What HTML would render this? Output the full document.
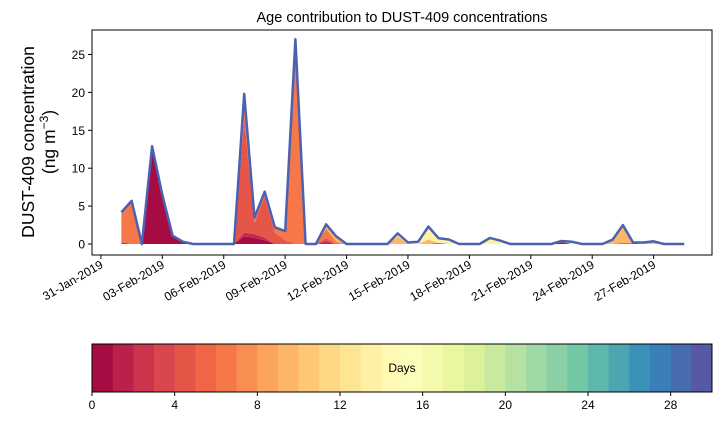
<!DOCTYPE html>
<html><head><meta charset="utf-8"><style>
body{margin:0;background:#fff;}
svg{font-family:"Liberation Sans","DejaVu Sans",sans-serif;}
</style></head><body>
<svg id="c" width="721" height="425" viewBox="0 0 721 425">
<text x="402" y="22" font-size="14.5" text-anchor="middle">Age contribution to DUST-409 concentrations</text>
<g transform="translate(34,142) rotate(-90)">
<text x="0" y="0" font-size="17.5" text-anchor="middle">DUST-409 concentration</text>
<text x="0" y="21" font-size="17.5" text-anchor="middle">(ng m<tspan dy="-7" font-size="12">−3</tspan><tspan dy="7">)</tspan></text>
</g>
<g id="areas"></g>
<g id="axes"></g>
<g id="cbar"></g>
</svg>
<script>
const dates=["31-Jan-2019","03-Feb-2019","06-Feb-2019","09-Feb-2019","12-Feb-2019","15-Feb-2019","18-Feb-2019","21-Feb-2019","24-Feb-2019","27-Feb-2019"];
const dateOffsets=[-1,2,5,8,11,14,17,20,23,26];
const yTicks=[0,5,10,15,20,25];
const cbTicks=[0,4,8,12,16,20,24,28];
const N=56;
// series by age bin (sparse: index -> value), 12-hourly from 01-Feb-2019
const ageBins=[0.5,2,4.5,6.5,9.5,13.5];
const s0={3:12.5,4:6.5,5:1.1,6:0.3,12:1.0,13:0.8,14:0.5,20:0.1,31:0.1,43:0.2};
const s1={0:0.2,3:0.2,12:0.5,13:0.5,14:0.3,20:0.3,43:0.1,49:0.1,50:0.1};
const s2={12:15,13:1.5,14:5.5,15:1.5,16:0.5,20:0.4};
const s3={0:4,1:5.7,3:0.2,12:3.3,13:0.7,14:0.6,15:0.7,16:1.2,17:27,20:1.2,21:0.3};
const s4={20:0.6,21:0.7,27:1.0,30:0.6,48:0.5,49:2.4,50:0.1,51:0.2,52:0.3};
const s5={27:0.4,28:0.2,29:0.3,30:1.7,31:0.65,32:0.6,36:0.8,37:0.45,43:0.1,44:0.3,48:0.1,52:0.05};
const series=[s0,s1,s2,s3,s4,s5];

const NS="http://www.w3.org/2000/svg";
const X0=92,X1=712,Y0=30,Y1=255;
const dayPx=20.47, day0x=121.4;
const xOf=i=>day0x+i*0.5*dayPx;
const xDay=d=>day0x+d*dayPx;
const yOf=v=>244-v*7.58;
function mk(t,a,p){const e=document.createElementNS(NS,t);for(const k in a)e.setAttribute(k,a[k]);(p||document.getElementById('c')).appendChild(e);return e;}
const anchors=["#9e0142","#d53e4f","#f46d43","#fdae61","#fee08b","#ffffbf","#e6f598","#abdda4","#66c2a5","#3288bd","#5e4fa2"];
function hex(h){return [1,3,5].map(i=>parseInt(h.substr(i,2),16));}
function spectral(t){const p=t*10,i=Math.min(9,Math.floor(p)),f=p-i;const a=hex(anchors[i]),b=hex(anchors[i+1]);return "rgb("+a.map((v,k)=>Math.round(v+(b[k]-v)*f)).join(",")+")";}

const areas=document.getElementById('areas');
let base=new Array(N).fill(0);
series.forEach((s,si)=>{
  const top=base.map((b,i)=>b+(s[i]||0));
  let d="";
  for(let i=0;i<N;i++)d+=(i?"L":"M")+xOf(i).toFixed(1)+","+yOf(top[i]).toFixed(1);
  for(let i=N-1;i>=0;i--)d+="L"+xOf(i).toFixed(1)+","+yOf(base[i]).toFixed(1);
  const p=mk('path',{d:d+"Z",fill:spectral(ageBins[si]/30),stroke:"none"},areas);
  
  
  base=top;
});
let dl="";
for(let i=0;i<N;i++)dl+=(i?"L":"M")+xOf(i).toFixed(1)+","+yOf(base[i]).toFixed(1);
const tl=mk('path',{d:dl,fill:"none",stroke:"#4c62b0","stroke-width":2.5,"stroke-linejoin":"round"},areas);



const ax=document.getElementById('axes');
const fr=mk('rect',{x:X0,y:Y0,width:X1-X0,height:Y1-Y0,fill:"none",stroke:"#000","stroke-width":1},ax);


yTicks.forEach(v=>{const y=yOf(v);
  mk('line',{x1:X0-4,x2:X0,y1:y,y2:y,stroke:"#000"},ax);
  const t=mk('text',{x:X0-7,y:y+4.5,"font-size":12,"text-anchor":"end"},ax);t.textContent=v;
  
  
});
dates.forEach((s,k)=>{const x=xDay(dateOffsets[k]);
  mk('line',{x1:x,x2:x,y1:Y1,y2:Y1+4,stroke:"#000"},ax);
  const t=mk('text',{x:0,y:0,"font-size":12,"text-anchor":"end",transform:`translate(${x+3},${Y1+12}) rotate(-30)`},ax);t.textContent=s;
  
  
});

const cb=document.getElementById('cbar');
const CX0=92,CX1=712,CY0=344,CY1=392;
const cw=(CX1-CX0)/30;
for(let i=0;i<30;i++){
  const r=mk('rect',{x:CX0+i*cw,y:CY0,width:cw+0.5,height:CY1-CY0,fill:spectral((i+0.5)/30)},cb);
  
  
}
const cf=mk('rect',{x:CX0,y:CY0,width:CX1-CX0,height:CY1-CY0,fill:"none",stroke:"#000"},cb);


cbTicks.forEach(v=>{const x=CX0+v*cw;
  mk('line',{x1:x,x2:x,y1:CY1,y2:CY1+4,stroke:"#000"},cb);
  const t=mk('text',{x:x,y:CY1+17,"font-size":12,"text-anchor":"middle"},cb);t.textContent=v;
  
  
});
const dt=mk('text',{x:(CX0+CX1)/2,y:372,"font-size":12,"text-anchor":"middle"},cb);dt.textContent="Days";


</script>
</body></html>
